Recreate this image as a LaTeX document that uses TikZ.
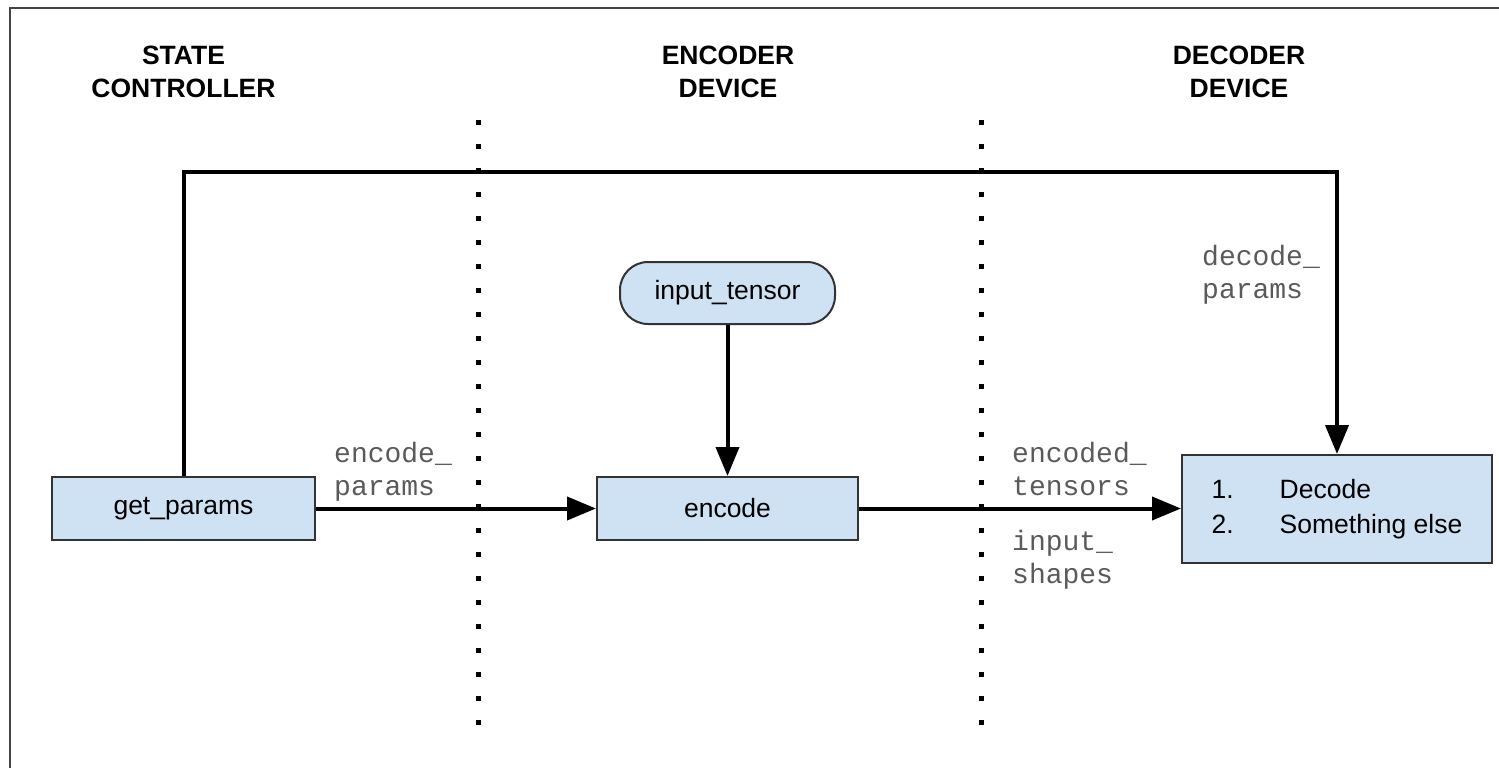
\documentclass[tikz,border=0pt]{standalone}
\usepackage{fontspec}
\setmainfont{Liberation Sans}
\newfontfamily\monofnt{Liberation Mono}
\usetikzlibrary{arrows.meta}
\definecolor{boxfill}{HTML}{CFE2F3}
\definecolor{boxline}{HTML}{333333}
\definecolor{labgray}{HTML}{5A5A5A}
\definecolor{framegray}{HTML}{444444}
\tikzset{
  blk/.style={draw=boxline, line width=2pt, fill=boxfill, inner sep=0pt, align=center,
    font=\fontsize{26.5}{35}\selectfont},
  hdr/.style={inner sep=0pt, align=center, font=\fontsize{26.5}{33}\selectfont\bfseries},
  lab/.style={inner sep=0pt, align=left, anchor=north west, text=labgray,
    font=\monofnt\fontsize{28}{33}\selectfont},
  conn/.style={line width=4pt, -{Triangle[length=29pt,width=23pt]}},
  dotsq/.style={fill=black, draw=none}
}
\begin{document}
\begin{tikzpicture}[x=1pt,y=-1pt]
\useasboundingbox (0,0) rectangle (1499,768);
\begin{scope}
\clip (0,0) rectangle (1499,768);
\draw[framegray, line width=2pt] (10,790) -- (10,8) -- (1520,8);
\end{scope}
% headers
\node[hdr] (hstate) at (183.5,72) {STATE\\CONTROLLER};
\node[hdr] (henc) at (728,72) {ENCODER\\DEVICE};
\node[hdr] (hdec) at (1239,72) {DECODER\\DEVICE};
% dotted separators
\foreach \k in {0,...,25}{
  \fill[dotsq] (475.5,{119.5+24*\k}) rectangle ++(5,5);
  \fill[dotsq] (978.5,{119.5+24*\k}) rectangle ++(5,5);
}
% blocks
\node[blk, minimum width=263pt, minimum height=63pt] (getp) at (183.5,508.5) {get\_params};
\node[blk, minimum width=261pt, minimum height=63pt] (enc) at (727.5,508.5) {encode};
\node[blk, minimum width=310pt, minimum height=108pt] (dec) at (1337,509)
  {\begin{tabular}{@{}l@{}l@{}}\makebox[68pt][l]{1.}&Decode\\\makebox[68pt][l]{2.}&Something else\end{tabular}};
\node[blk, minimum width=215pt, minimum height=62pt, rounded corners=28pt] (inp) at (727.5,293) {input\_tensor};
% connectors
\coordinate (tl) at (getp.north |- 0,172);
\coordinate (tr) at (dec.north |- 0,172);
\draw[conn, line join=miter] (getp.north) -- (tl) -- (tr) -- (dec.north);
\draw[conn] (getp.east) -- (enc.west);
\draw[conn] (enc.east) -- (dec.west |- enc.east);
\draw[conn] (inp.south) -- (enc.north);
% labels
\node[lab] (l1) at (334,442) {encode\_\\params};
\node[lab] (l2) at (1012,442) {encoded\_\\tensors};
\node[lab] (l3) at (1012,530) {input\_\\shapes};
\node[lab] (l4) at (1202,245) {decode\_\\params};
\end{tikzpicture}
\end{document}
